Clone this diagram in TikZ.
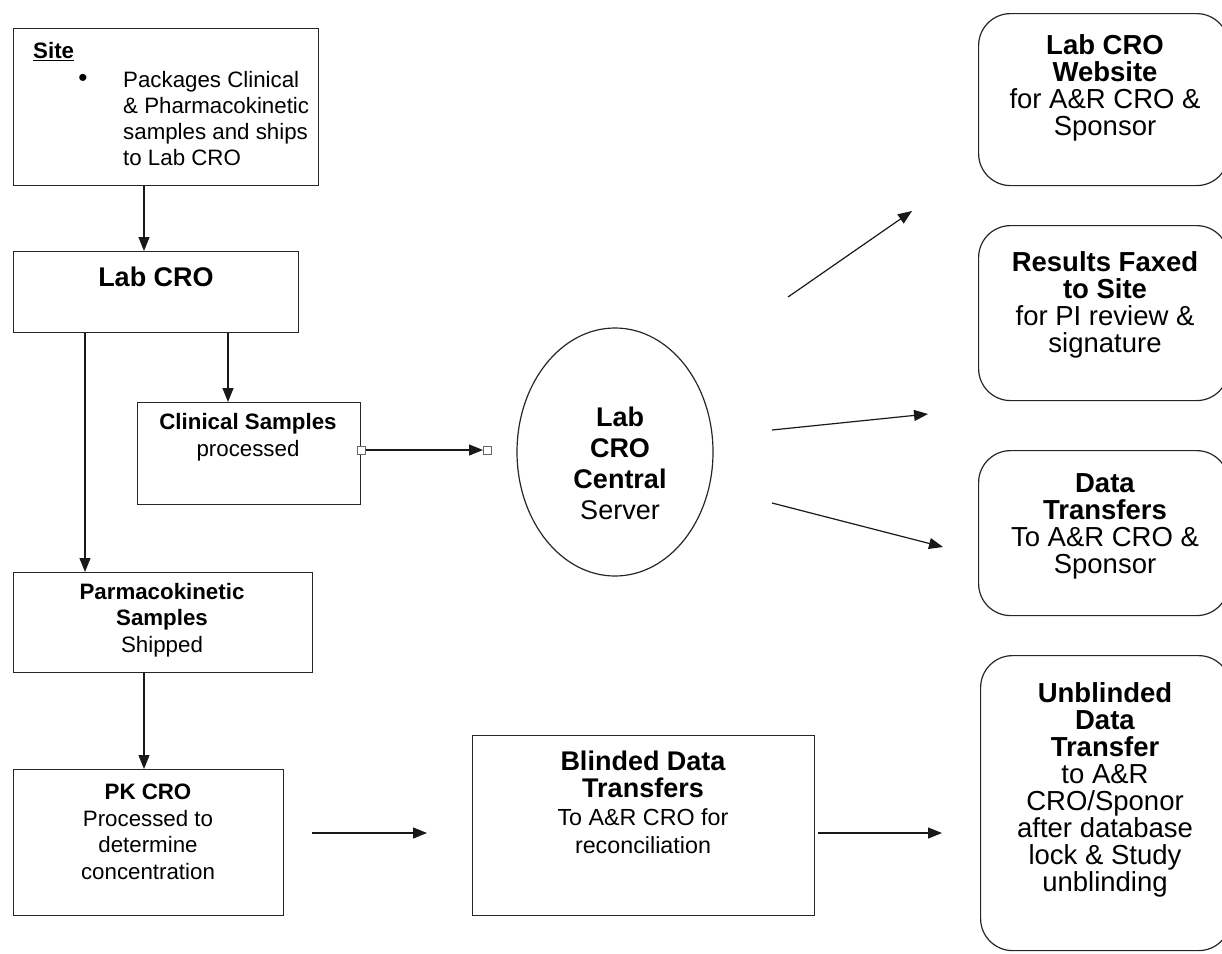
\documentclass[tikz,border=0pt]{standalone}
\usepackage{fontspec}
\setmainfont{Liberation Sans}
\usetikzlibrary{arrows.meta,shapes.geometric}
\begin{document}
\begin{tikzpicture}[x=1pt,y=-1pt,
  box/.style={draw=black!85,line width=1.2pt,anchor=north west,inner sep=0pt},
  rbox/.style={box,rounded corners=32pt},
  arr/.style={draw=black!90,line width=1.2pt,-{Triangle[length=14pt,width=11pt]}},
  sm/.style={font=\fontsize{22.3}{26.5}\selectfont,align=center,inner sep=0pt},
  bg/.style={font=\fontsize{27.5}{27}\selectfont,align=center,inner sep=0pt},
  handle/.style={draw=black!60,fill=white,minimum size=8pt,inner sep=0pt,line width=0.6pt}]
\useasboundingbox (0,0) rectangle (1222,953);

% left column boxes
\node[box,minimum width=305pt,minimum height=157pt] (site) at (13,28) {};
\node[sm,anchor=west] (siteT) at (33,52) {\underline{\textbf{Site}}};
\node[font=\fontsize{26}{26}\selectfont,inner sep=0pt] (bul) at (83,80) {•};
\node[sm,font=\fontsize{22.3}{25.7}\selectfont,anchor=west,align=left] (siteX) at (123,118.5) {Packages Clinical\\\& Pharmacokinetic\\samples and ships\\to Lab CRO};

\node[box,minimum width=285pt,minimum height=81pt] (lab) at (13,251) {};
\node[font=\fontsize{27}{30}\selectfont\bfseries,inner sep=0pt] (labT) at (156,277) {Lab CRO};

\node[box,minimum width=223pt,minimum height=102pt] (clin) at (137,402) {};
\node[sm] (clinT) at (248,437) {\textbf{Clinical Samples}\\processed};

\node[box,minimum width=299pt,minimum height=100pt] (phar) at (13,572) {};
\node[sm] (pharT) at (162,620) {\textbf{Parmacokinetic}\\\textbf{Samples}\\Shipped};

\node[box,minimum width=270pt,minimum height=146pt] (pk) at (13,769) {};
\node[sm,font=\fontsize{22.3}{26.5}\selectfont] (pkT) at (148,832) {\textbf{PK CRO}\\Processed to\\determine\\concentration};

% blinded
\node[box,minimum width=342pt,minimum height=180pt] (bl) at (472,735) {};
\node[font=\fontsize{23.3}{27.7}\selectfont,align=center,inner sep=0pt] (blT) at (643,802) {{\fontsize{27}{27.7}\selectfont\bfseries Blinded Data}\\{\fontsize{27}{27.7}\selectfont\bfseries Transfers}\\To A\&R CRO for\\reconciliation};

% ellipse
\node[draw=black!85,line width=1.2pt,ellipse,minimum width=196pt,minimum height=248pt,inner sep=0pt] (srv) at (615,452) {};
\node[font=\fontsize{27}{31}\selectfont,align=center,inner sep=0pt] (srvT) at (620,463) {\textbf{Lab}\\\textbf{CRO}\\\textbf{Central}\\Server};

% right column rounded boxes
\node[rbox,minimum width=250pt,minimum height=172pt] (web) at (978,13) {};
\node[bg] (webT) at (1105,88) {\textbf{Lab CRO}\\\textbf{Website}\\for A\&R CRO \&\\Sponsor};

\node[rbox,minimum width=250pt,minimum height=175pt] (fax) at (978,225) {};
\node[bg] (faxT) at (1105,305) {\textbf{Results Faxed}\\\textbf{to Site}\\for PI review \&\\signature};

\node[rbox,minimum width=250pt,minimum height=165pt] (dt) at (978,450) {};
\node[bg] (dtT) at (1105,526) {\textbf{Data}\\\textbf{Transfers}\\To A\&R CRO \&\\Sponsor};

\node[rbox,minimum width=250pt,minimum height=295pt] (ub) at (980,655) {};
\node[bg] (ubT) at (1105,790) {\textbf{Unblinded}\\\textbf{Data}\\\textbf{Transfer}\\to A\&R\\CRO/Sponor\\after database\\lock \& Study\\unblinding};

% free ends
\coordinate (a1s) at (788,297);
\coordinate (a1e) at (912,211);
\coordinate (a2s) at (772,430);
\coordinate (a2e) at (928,414);
\coordinate (a3s) at (772,503);
\coordinate (a3e) at (943,547);
\coordinate (b1s) at (312,833);
\coordinate (b1e) at (427,833);
\coordinate (b2s) at (818,833);
\coordinate (b2e) at (942,833);
\coordinate (cend) at (487,450);

% connectors
\draw[arr] (site.south -| 144,0) -- (lab.north -| 144,0);
\draw[arr] (lab.south -| 228,0) -- (clin.north -| 228,0);
\draw[arr] (lab.south -| 85,0) -- (phar.north -| 85,0);
\draw[arr] (phar.south -| 144,0) -- (pk.north -| 144,0);
\draw[arr,shorten >=4pt] (clin.east |- 0,450) -- (cend);
\node[handle] (h1) at (clin.east |- 0,450) {};
\node[handle] (h2) at (cend) {};
\draw[arr] (a1s) -- (a1e);
\draw[arr] (a2s) -- (a2e);
\draw[arr] (a3s) -- (a3e);
\draw[arr] (b1s) -- (b1e);
\draw[arr] (b2s) -- (b2e);
\end{tikzpicture}
\end{document}
